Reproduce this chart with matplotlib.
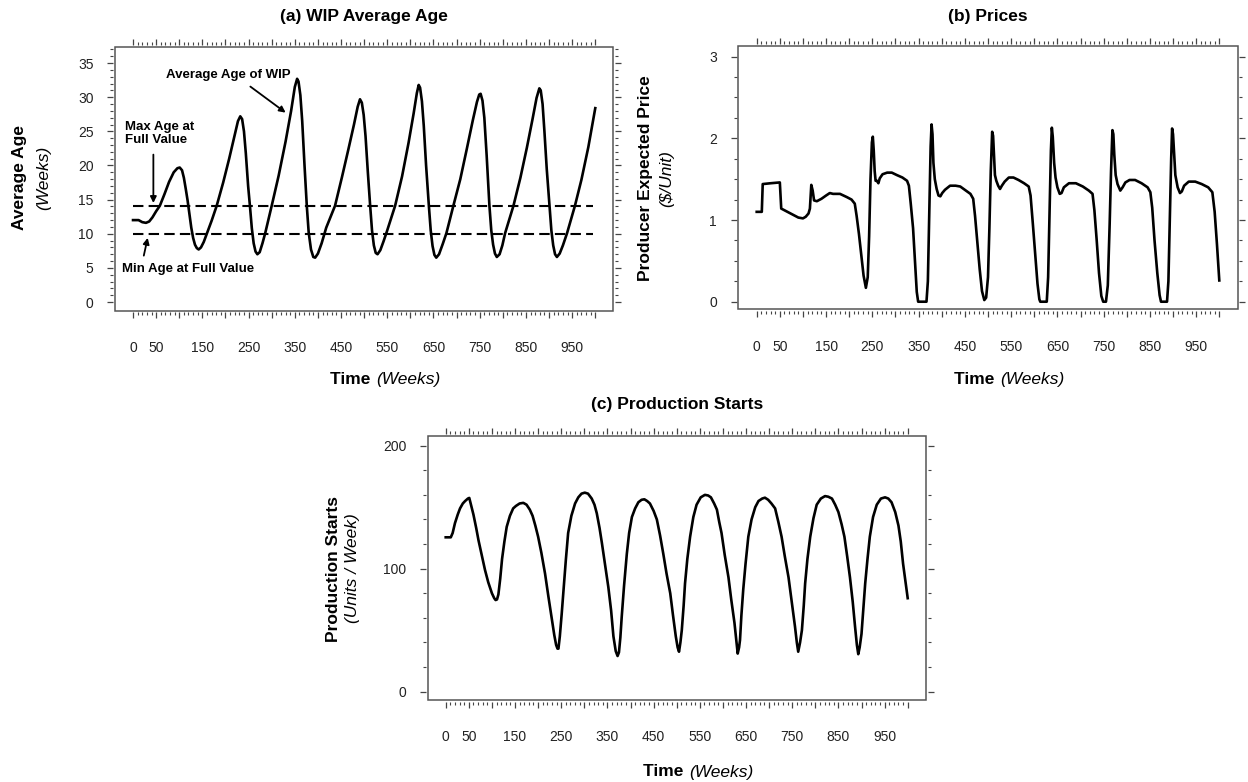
import numpy as np
import matplotlib
matplotlib.use("Agg")
import matplotlib.pyplot as plt
from matplotlib.ticker import FixedLocator, FuncFormatter
from matplotlib.patches import Rectangle

plt.rcParams['font.family'] = ['Liberation Sans', 'DejaVu Sans']

# ---------------- data ----------------
# (a) average age of WIP, weeks
age_weeks = [0, 12, 20, 28, 35, 42, 50, 58, 68, 78, 88, 96, 101, 106, 110, 114, 118, 122, 126, 130,
             134, 138, 142, 147, 153, 159, 170, 181, 195, 208, 220, 227, 232, 236, 240, 244, 249, 253,
             257, 261, 265, 269, 274, 280, 286, 300, 315, 330, 342, 350, 355, 358, 362, 366, 371, 376,
             380, 385, 390, 394, 400, 408, 418, 437, 452, 466, 478, 486, 491, 495, 499, 503, 508, 513,
             517, 521, 525, 529, 535, 542, 549, 567, 582, 596, 607, 614, 618, 621, 625, 629, 634, 640,
             644, 648, 652, 656, 662, 670, 678, 693, 708, 722, 735, 744, 749, 752, 756, 760, 765, 771,
             775, 779, 783, 787, 793, 799, 805, 823, 838, 852, 864, 873, 879, 882, 886, 890, 895, 901,
             905, 909, 913, 917, 923, 930, 939, 956, 970, 985, 1000]
wip_age = [12.0, 12.0, 11.7, 11.6, 11.8, 12.4, 13.3, 14.1, 15.8, 17.6, 19.0, 19.6, 19.7, 19.3, 18.2, 16.6,
           14.9, 12.9, 10.9, 9.4, 8.4, 7.9, 7.7, 8.0, 8.8, 9.9, 11.9, 14.1, 17.5, 21.0, 24.5, 26.5, 27.2,
           26.8, 25.0, 21.8, 17.0, 14.0, 10.8, 8.6, 7.4, 7.0, 7.3, 8.6, 10.1, 14.1, 18.5, 23.5, 28.0,
           31.5, 32.7, 32.3, 30.3, 26.5, 20.0, 14.0, 10.2, 7.7, 6.6, 6.5, 7.1, 8.6, 10.9, 14.1, 18.3,
           22.4, 26.0, 28.6, 29.7, 29.2, 27.4, 24.3, 19.0, 14.1, 10.5, 8.3, 7.2, 7.0, 7.6, 8.9, 10.3,
           14.1, 18.4, 23.3, 27.6, 30.6, 31.8, 31.4, 29.4, 25.8, 20.0, 14.1, 10.5, 8.2, 6.9, 6.5, 7.0,
           8.5, 10.1, 14.1, 18.0, 22.4, 26.6, 29.3, 30.4, 30.5, 29.5, 27.0, 21.5, 14.1, 10.5, 8.4, 7.1,
           6.6, 7.0, 8.3, 10.1, 14.1, 18.2, 22.6, 26.7, 29.9, 31.3, 31.0, 29.0, 25.0, 19.5, 14.1, 10.5,
           8.3, 7.0, 6.6, 7.1, 8.3, 10.1, 14.1, 17.9, 22.7, 28.4]
max_age_full_value = 14
min_age_full_value = 10

# (b) producer expected price, $/unit
price_weeks = [0, 11, 13, 30, 50, 53, 70, 90, 100, 106, 112, 115, 118, 121, 124, 130, 140, 150, 158, 165,
               180, 195, 205, 212, 216, 221, 226, 231, 236, 240, 243, 246, 249, 251, 253, 255, 257, 260,
               263, 266, 272, 282, 292, 303, 315, 325, 329, 333, 338, 342, 346, 349, 367, 370, 373, 376,
               378, 380, 382, 385, 389, 393, 397, 401, 407, 418, 430, 440, 452, 462, 468, 472, 477, 482,
               487, 492, 496, 500, 503, 506, 509, 511, 513, 515, 518, 522, 526, 530, 536, 545, 555, 566,
               578, 588, 592, 597, 602, 607, 611, 613, 627, 630, 633, 636, 638, 640, 643, 646, 650, 655,
               659, 664, 675, 690, 705, 718, 726, 730, 735, 740, 745, 749, 755, 759, 763, 766, 769, 771,
               773, 776, 780, 786, 791, 797, 806, 818, 832, 845, 851, 855, 860, 866, 871, 874, 887, 890,
               893, 896, 898, 900, 902, 905, 910, 915, 919, 924, 934, 948, 962, 976, 985, 990, 995, 1000]
expected_price = [1.10, 1.10, 1.44, 1.45, 1.46, 1.14, 1.09, 1.03, 1.02, 1.04, 1.08, 1.14, 1.43, 1.36,
                  1.24, 1.23, 1.26, 1.30, 1.33, 1.32, 1.32, 1.28, 1.25, 1.20, 1.05, 0.83, 0.58, 0.32,
                  0.17, 0.30, 0.80, 1.50, 1.95, 2.02, 1.85, 1.60, 1.48, 1.48, 1.45, 1.51, 1.56, 1.58,
                  1.58, 1.55, 1.52, 1.48, 1.42, 1.20, 0.90, 0.50, 0.12, 0.0, 0.0, 0.25, 1.10, 1.90,
                  2.17, 2.05, 1.70, 1.50, 1.38, 1.30, 1.29, 1.33, 1.37, 1.42, 1.42, 1.41, 1.36, 1.32,
                  1.26, 1.05, 0.72, 0.40, 0.13, 0.02, 0.05, 0.30, 0.90, 1.60, 2.08, 2.03, 1.80, 1.55,
                  1.48, 1.42, 1.38, 1.42, 1.47, 1.52, 1.52, 1.49, 1.45, 1.41, 1.30, 0.95, 0.58, 0.22,
                  0.03, 0.0, 0.0, 0.30, 1.10, 1.85, 2.13, 2.02, 1.70, 1.52, 1.40, 1.32, 1.33, 1.40,
                  1.45, 1.45, 1.41, 1.36, 1.32, 1.12, 0.75, 0.35, 0.07, 0.0, 0.0, 0.20, 0.95, 1.60,
                  2.10, 2.05, 1.80, 1.55, 1.44, 1.36, 1.40, 1.46, 1.49, 1.49, 1.45, 1.40, 1.34, 1.15,
                  0.75, 0.35, 0.08, 0.0, 0.0, 0.25, 1.00, 1.75, 2.12, 2.05, 1.85, 1.55, 1.40, 1.33,
                  1.35, 1.42, 1.47, 1.47, 1.44, 1.40, 1.34, 1.10, 0.70, 0.26]

# (c) production starts, units/week
starts_weeks = [0, 11, 15, 20, 26, 31, 37, 42, 48, 51, 54, 60, 66, 71, 78, 85, 92, 100, 105, 108, 111,
                114, 118, 122, 127, 132, 139, 146, 152, 160, 168, 175, 182, 188, 194, 200, 207, 215, 222,
                229, 235, 239, 242, 244, 247, 251, 255, 260, 265, 272, 280, 287, 294, 301, 308, 316, 322,
                327, 333, 338, 345, 352, 358, 363, 368, 372, 375, 378, 381, 386, 392, 397, 403, 410, 417,
                424, 430, 436, 442, 450, 457, 464, 471, 478, 486, 492, 498, 502, 505, 508, 511, 515, 518,
                523, 529, 536, 543, 552, 561, 568, 574, 581, 587, 592, 597, 604, 612, 618, 625, 629, 632,
                635, 637, 640, 644, 649, 655, 662, 670, 677, 685, 691, 698, 705, 713, 720, 727, 734, 742,
                749, 756, 760, 763, 767, 771, 775, 778, 783, 789, 796, 803, 812, 821, 828, 836, 843, 850,
                857, 863, 869, 875, 881, 886, 890, 893, 896, 900, 904, 908, 913, 918, 925, 933, 942, 951,
                958, 965, 973, 980, 985, 990, 995, 1000]
production_starts = [125.5, 125.5, 129, 137, 144, 149, 153, 155, 157, 157.5, 153, 144, 133, 123, 111, 99,
                     89, 80, 76, 74.5, 75, 79, 92, 108, 122, 134, 143, 149, 151, 153, 153.5, 152, 148, 143,
                     135, 126, 113, 96, 78, 61, 46, 38, 35, 35, 45, 63, 83, 107, 129, 143, 153, 158, 161,
                     161.8, 161, 157, 152, 145, 133, 121, 103, 85, 66, 45, 33, 29, 32, 44, 61, 86, 112,
                     129, 142, 149, 154, 156, 156.4, 155, 153, 147, 140, 127, 112, 96, 80, 62, 45, 36,
                     32.5, 40, 50, 70, 88, 108, 126, 142, 152, 158, 160, 159.5, 158, 153, 148, 138, 129,
                     111, 93, 75, 56, 42, 31, 36, 42, 62, 83, 104, 126, 140, 150, 155, 157, 157.7, 156,
                     153, 149, 138, 126, 110, 93, 73, 53, 40, 32.5, 40, 50, 70, 88, 108, 126, 141, 152,
                     157, 159, 158.5, 157, 152, 146, 136, 126, 110, 93, 73, 53, 38, 30.5, 36, 47, 68, 88,
                     108, 126, 142, 152, 157, 158, 157, 154, 146, 135, 122, 104, 90, 76]

time_tick_labels = [0, 50, 150, 250, 350, 450, 550, 650, 750, 850, 950]

# ---------------- layout ----------------
W, H = 1248, 782
fig = plt.figure(figsize=(W / 100, H / 100), dpi=100)


def fx(px):
    return px / W


def fy(py):
    return 1 - py / H


def make_axes(l, t, r, b, xlim, ylim, ymajor, yminor):
    ax = fig.add_axes([fx(l), fy(b), (r - l) / W, (b - t) / H])
    ax.set_xlim(*xlim)
    ax.set_ylim(*ylim)
    # ticks sit just outside the frame
    for side in ['left', 'right', 'top', 'bottom']:
        ax.spines[side].set_position(('outward', 1.2))
        ax.spines[side].set_color('none')
    ax.add_patch(Rectangle((0, 0), 1, 1, transform=ax.transAxes, fill=False,
                           ec='#555555', lw=1.1, clip_on=False, zorder=5))
    ax.xaxis.set_major_locator(FixedLocator(np.arange(0, 1001, 50)))
    ax.xaxis.set_minor_locator(FixedLocator(np.arange(0, 1001, 10)))
    ax.xaxis.set_major_formatter(FuncFormatter(
        lambda v, p: str(int(round(v))) if int(round(v)) in time_tick_labels else ''))
    ax.yaxis.set_major_locator(FixedLocator(ymajor))
    ax.yaxis.set_minor_locator(FixedLocator(yminor))
    ax.tick_params(which='both', direction='out', top=True, right=True, color='#444444',
                   labelsize=10, labelcolor='#222222')
    ax.tick_params(which='major', length=4.2, width=0.9)
    ax.tick_params(which='minor', length=2.3, width=0.8)
    ax.tick_params(axis='x', which='major', pad=16.5)
    ax.tick_params(axis='y', which='major', pad=10)
    return ax


def side_labels(x_main, x_unit, y_mid, main, unit, x_time, y_time):
    fig.text(fx(x_main), fy(y_mid), main, rotation=90, ha='center', va='center',
             fontsize=12.5, fontweight='bold')
    fig.text(fx(x_unit), fy(y_mid), unit, rotation=90, ha='center', va='center',
             fontsize=12.5, fontstyle='italic')
    # "Time (Weeks)" with bold and italic parts
    fig.text(fx(x_time) - 0.0005, fy(y_time), 'Time ', ha='right', va='center',
             fontsize=12.5, fontweight='bold')
    fig.text(fx(x_time), fy(y_time), '(Weeks)', ha='left', va='center',
             fontsize=12.5, fontstyle='italic')


# ---------------- (a) WIP Average Age ----------------
ax1 = make_axes(115, 46.7, 613.3, 310.7, (-39, 1039), (-1.27, 37.4),
                np.arange(0, 36, 5), np.arange(0, 38, 1))
ax1.plot(age_weeks, wip_age, color='black', lw=1.9, solid_joinstyle='round')
ax1.hlines([max_age_full_value, min_age_full_value], 0, 996, colors='black',
           linestyles=(0, (5, 2.5)), lw=1.5)
ax1.text(206, 33.3, 'Average Age of WIP', ha='center', va='center', fontsize=9.5, fontweight='bold')
ax1.annotate('', xy=(335, 27.5), xytext=(249, 31.8),
             arrowprops=dict(arrowstyle='-|>', color='black', lw=1.3, mutation_scale=9))
ax1.text(-17, 24.7, 'Max Age at\nFull Value', ha='left', va='center', fontsize=9.5,
         fontweight='bold', linespacing=1.1)
ax1.annotate('', xy=(44, 14.1), xytext=(44, 22.0),
             arrowprops=dict(arrowstyle='-|>', color='black', lw=1.3, mutation_scale=9))
ax1.text(-23, 4.8, 'Min Age at Full Value', ha='left', va='center', fontsize=9.5, fontweight='bold')
ax1.annotate('', xy=(33, 9.8), xytext=(22, 6.4),
             arrowprops=dict(arrowstyle='-|>', color='black', lw=1.3, mutation_scale=9))
fig.text(fx(364), fy(16), '(a) WIP Average Age', ha='center', va='center',
         fontsize=12.5, fontweight='bold')
side_labels(20, 44, 178, 'Average Age', '(Weeks)', 364 + 12, 380)

# ---------------- (b) Prices ----------------
ax2 = make_axes(738.3, 46, 1237.7, 309.3, (-39.8, 1039.8), (-0.093, 3.13),
                [0, 1, 2, 3], np.arange(0, 3.01, 0.25))
ax2.plot(price_weeks, expected_price, color='black', lw=1.9, solid_joinstyle='round')
fig.text(fx(988), fy(16), '(b) Prices', ha='center', va='center', fontsize=12.5, fontweight='bold')
side_labels(645, 667, 178.5, 'Producer Expected Price', '($/Unit)', 988 + 12, 380)

# ---------------- (c) Production Starts ----------------
ax3 = make_axes(427.7, 435.7, 926, 700, (-39, 1039.6), (-6.75, 208.1),
                [0, 100, 200], np.arange(0, 201, 20))
ax3.plot(starts_weeks, production_starts, color='black', lw=1.9, solid_joinstyle='round')
fig.text(fx(677), fy(405), '(c) Production Starts', ha='center', va='center',
         fontsize=12.5, fontweight='bold')
side_labels(333, 353, 568.5, 'Production Starts', '(Units / Week)', 677 + 12, 772)

fig.savefig('out.png', dpi=100)
